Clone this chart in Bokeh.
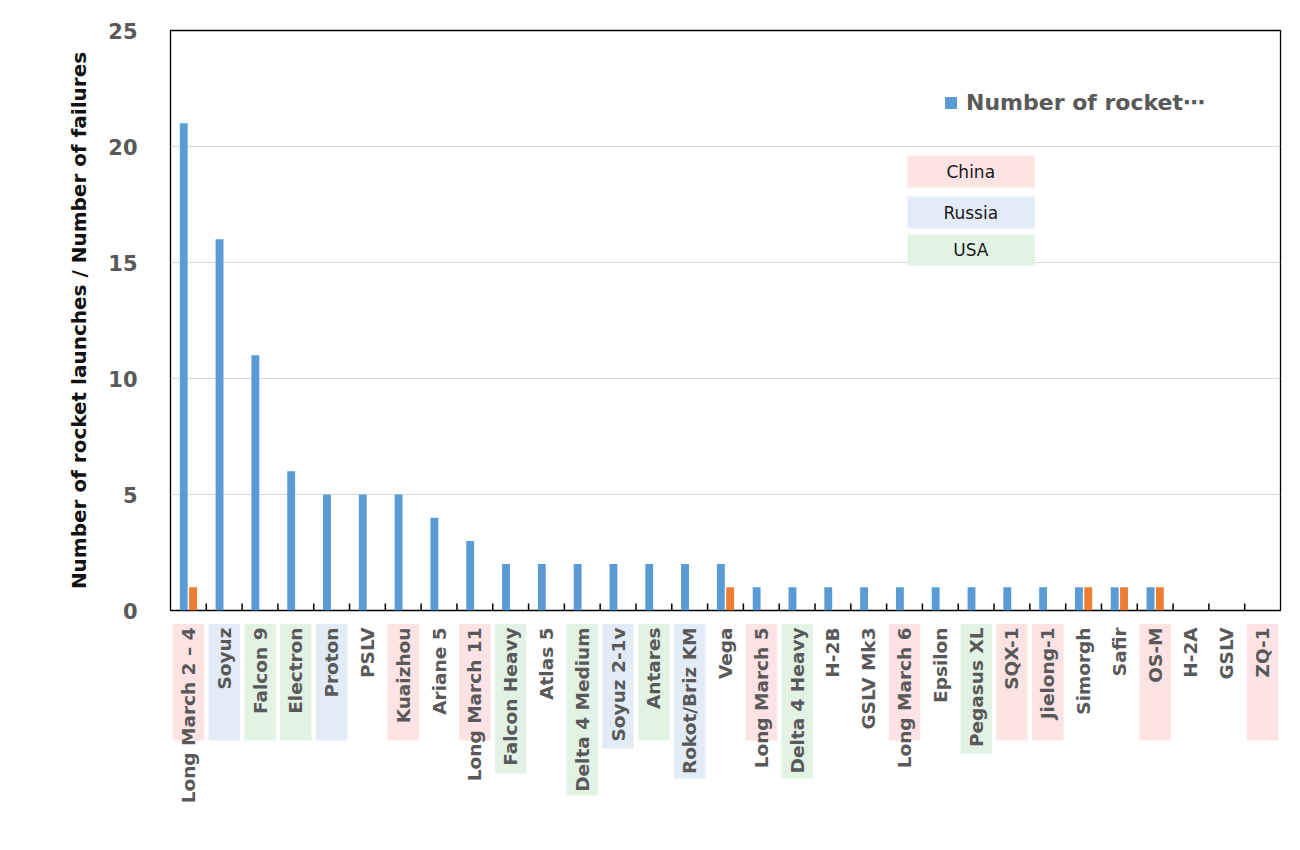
import math
from bokeh.plotting import figure
from bokeh.models import (FactorRange, Range1d, ColumnDataSource, Legend, LegendItem,
                          FixedTicker)
from bokeh.layouts import column
from bokeh.transform import dodge
from bokeh.embed import file_html
from bokeh.resources import INLINE
from bokeh.core.properties import value

# ---------------- data ----------------
rockets = ["Long March 2 \u2013 4", "Soyuz", "Falcon 9", "Electron", "Proton", "PSLV",
           "Kuaizhou", "Ariane 5", "Long March 11", "Falcon Heavy", "Atlas 5",
           "Delta 4 Medium", "Soyuz 2-1v", "Antares", "Rokot/Briz KM", "Vega",
           "Long March 5", "Delta 4 Heavy", "H-2B", "GSLV Mk3", "Long March 6",
           "Epsilon", "Pegasus XL", "SQX-1", "Jielong-1", "Simorgh", "Safir", "OS-M",
           "H-2A", "GSLV", "ZQ-1"]
launches = [21, 16, 11, 6, 5, 5, 5, 4, 3, 2, 2, 2, 2, 2, 2, 2,
            1, 1, 1, 1, 1, 1, 1, 1, 1, 1, 1, 1, 0, 0, 0]
failures = [1, 0, 0, 0, 0, 0, 0, 0, 0, 0, 0, 0, 0, 0, 0, 1,
            0, 0, 0, 0, 0, 0, 0, 0, 0, 1, 1, 1, 0, 0, 0]
country = ["China", "Russia", "USA", "USA", "Russia", "", "China", "", "China", "USA", "",
           "USA", "Russia", "USA", "Russia", "", "China", "USA", "", "", "China",
           "", "USA", "China", "China", "", "", "China", "", "", "China"]
country_names = ["China", "Russia", "USA"]
y_ticks = [0, 5, 10, 15, 20, 25]
legend_label = "Number of rocket\u22ef"
y_title = "Number of rocket launches / Number of failures"

# ---------------- style ----------------
FONT = "DejaVu Sans"
BLUE = "#5b9bd5"
ORANGE = "#ed7d31"
GRAY_TXT = "#595959"
country_fill = {"China": "#fde3e3", "Russia": "#e3ecf6", "USA": "#e2f3e6"}
# label-box depths (px below the top of the label strip) for the longer boxes
box_extra = {"Falcon Heavy": 150, "Delta 4 Medium": 172, "Soyuz 2-1v": 125,
             "Rokot/Briz KM": 155, "Delta 4 Heavy": 155, "Pegasus XL": 130}
BOX_STD = 117

LEFT, RIGHT = 170, 10
W = LEFT + 1110 + RIGHT
TOP_B, BOT_B = 30, 13
TOP_H = TOP_B + 580 + BOT_B
BOT_H = 215

xr = FactorRange(*rockets, range_padding=0, factor_padding=0)

p = figure(x_range=xr, y_range=Range1d(0, 25), width=W, height=TOP_H,
           output_backend="svg", toolbar_location=None,
           x_axis_location=None,
           min_border_left=LEFT, min_border_right=RIGHT,
           min_border_top=TOP_B, min_border_bottom=BOT_B)
p.outline_line_color = "black"
p.outline_line_width = 1.3
p.xgrid.visible = False
p.yaxis.ticker = FixedTicker(ticks=y_ticks)
p.ygrid.grid_line_color = "#d9d9d9"
p.ygrid.grid_line_width = 1.2
p.yaxis.axis_line_color = None
p.yaxis.major_tick_line_color = None
p.yaxis.minor_tick_line_color = None
p.yaxis.major_label_standoff = 27
p.yaxis.major_label_text_font = FONT
p.yaxis.major_label_text_font_style = "bold"
p.yaxis.major_label_text_font_size = "21px"
p.yaxis.major_label_text_color = GRAY_TXT
p.yaxis.axis_label = y_title
p.yaxis.axis_label_text_font = FONT
p.yaxis.axis_label_text_font_style = "bold"
p.yaxis.axis_label_text_font_size = "20px"
p.yaxis.axis_label_text_color = "#111111"
p.yaxis.axis_label_standoff = 14

src = ColumnDataSource(dict(rocket=rockets, launches=launches, failures=failures))
rb = p.vbar(x=dodge("rocket", -0.13, range=xr), top="launches", width=0.22,
            source=src, fill_color=BLUE, line_color=None)
p.vbar(x=dodge("rocket", 0.13, range=xr), top="failures", width=0.22,
       source=src, fill_color=ORANGE, line_color=None)

# inside tick marks at category boundaries
bounds = [(r, -0.5) for r in rockets[1:]]
p.segment(x0=bounds, y0=[0] * len(bounds), x1=bounds, y1=[0.3] * len(bounds),
          line_color="black", line_width=1.5)

# country legend boxes
cy_top = [19.61, 17.84, 16.21]
cy_bot = [18.23, 16.47, 14.87]
cl = [("Long March 6", 0.08)] * 3
cr = [("Jielong-1", -0.36)] * 3
p.quad(left=cl, right=cr, top=cy_top, bottom=cy_bot,
       fill_color=[country_fill[c] for c in country_names], line_color=None)
p.text(x=[("Pegasus XL", -0.15)] * 3, y=[(a + b) / 2 for a, b in zip(cy_top, cy_bot)],
       text=country_names, text_align="center", text_baseline="middle",
       text_font=value(FONT), text_font_size="17px", text_color="#1a1a1a")

legend = Legend(items=[LegendItem(label=legend_label, renderers=[rb])],
                location=(773, 495), orientation="vertical",
                background_fill_alpha=0, border_line_color=None,
                padding=0, margin=0, spacing=0,
                glyph_width=15, glyph_height=15, label_standoff=8,
                label_text_font=FONT, label_text_font_style="bold",
                label_text_font_size="22px", label_text_color=GRAY_TXT)
p.add_layout(legend)

# ---------------- label strip ----------------
q = figure(x_range=xr, y_range=Range1d(-BOT_H, 0), width=W, height=BOT_H,
           output_backend="svg", toolbar_location=None,
           x_axis_location=None, y_axis_location=None,
           min_border_left=LEFT, min_border_right=RIGHT,
           min_border_top=0, min_border_bottom=0)
q.outline_line_color = None
q.grid.visible = False

bx, bb, bc = [], [], []
for r, c in zip(rockets, country):
    if c:
        bx.append(r)
        bb.append(-box_extra.get(r, BOX_STD))
        bc.append(country_fill[c])
q.vbar(x=bx, top=0, bottom=bb, width=0.88, fill_color=bc, line_color=None)
q.text(x=rockets, y=[-4] * len(rockets), text=rockets, angle=math.pi / 2,
       text_align="right", text_baseline="middle",
       text_font=value(FONT), text_font_style="bold", text_font_size="18.5px",
       text_color=GRAY_TXT)

layout = column(p, q, spacing=0)
open("out.html", "w").write(file_html(layout, INLINE))
